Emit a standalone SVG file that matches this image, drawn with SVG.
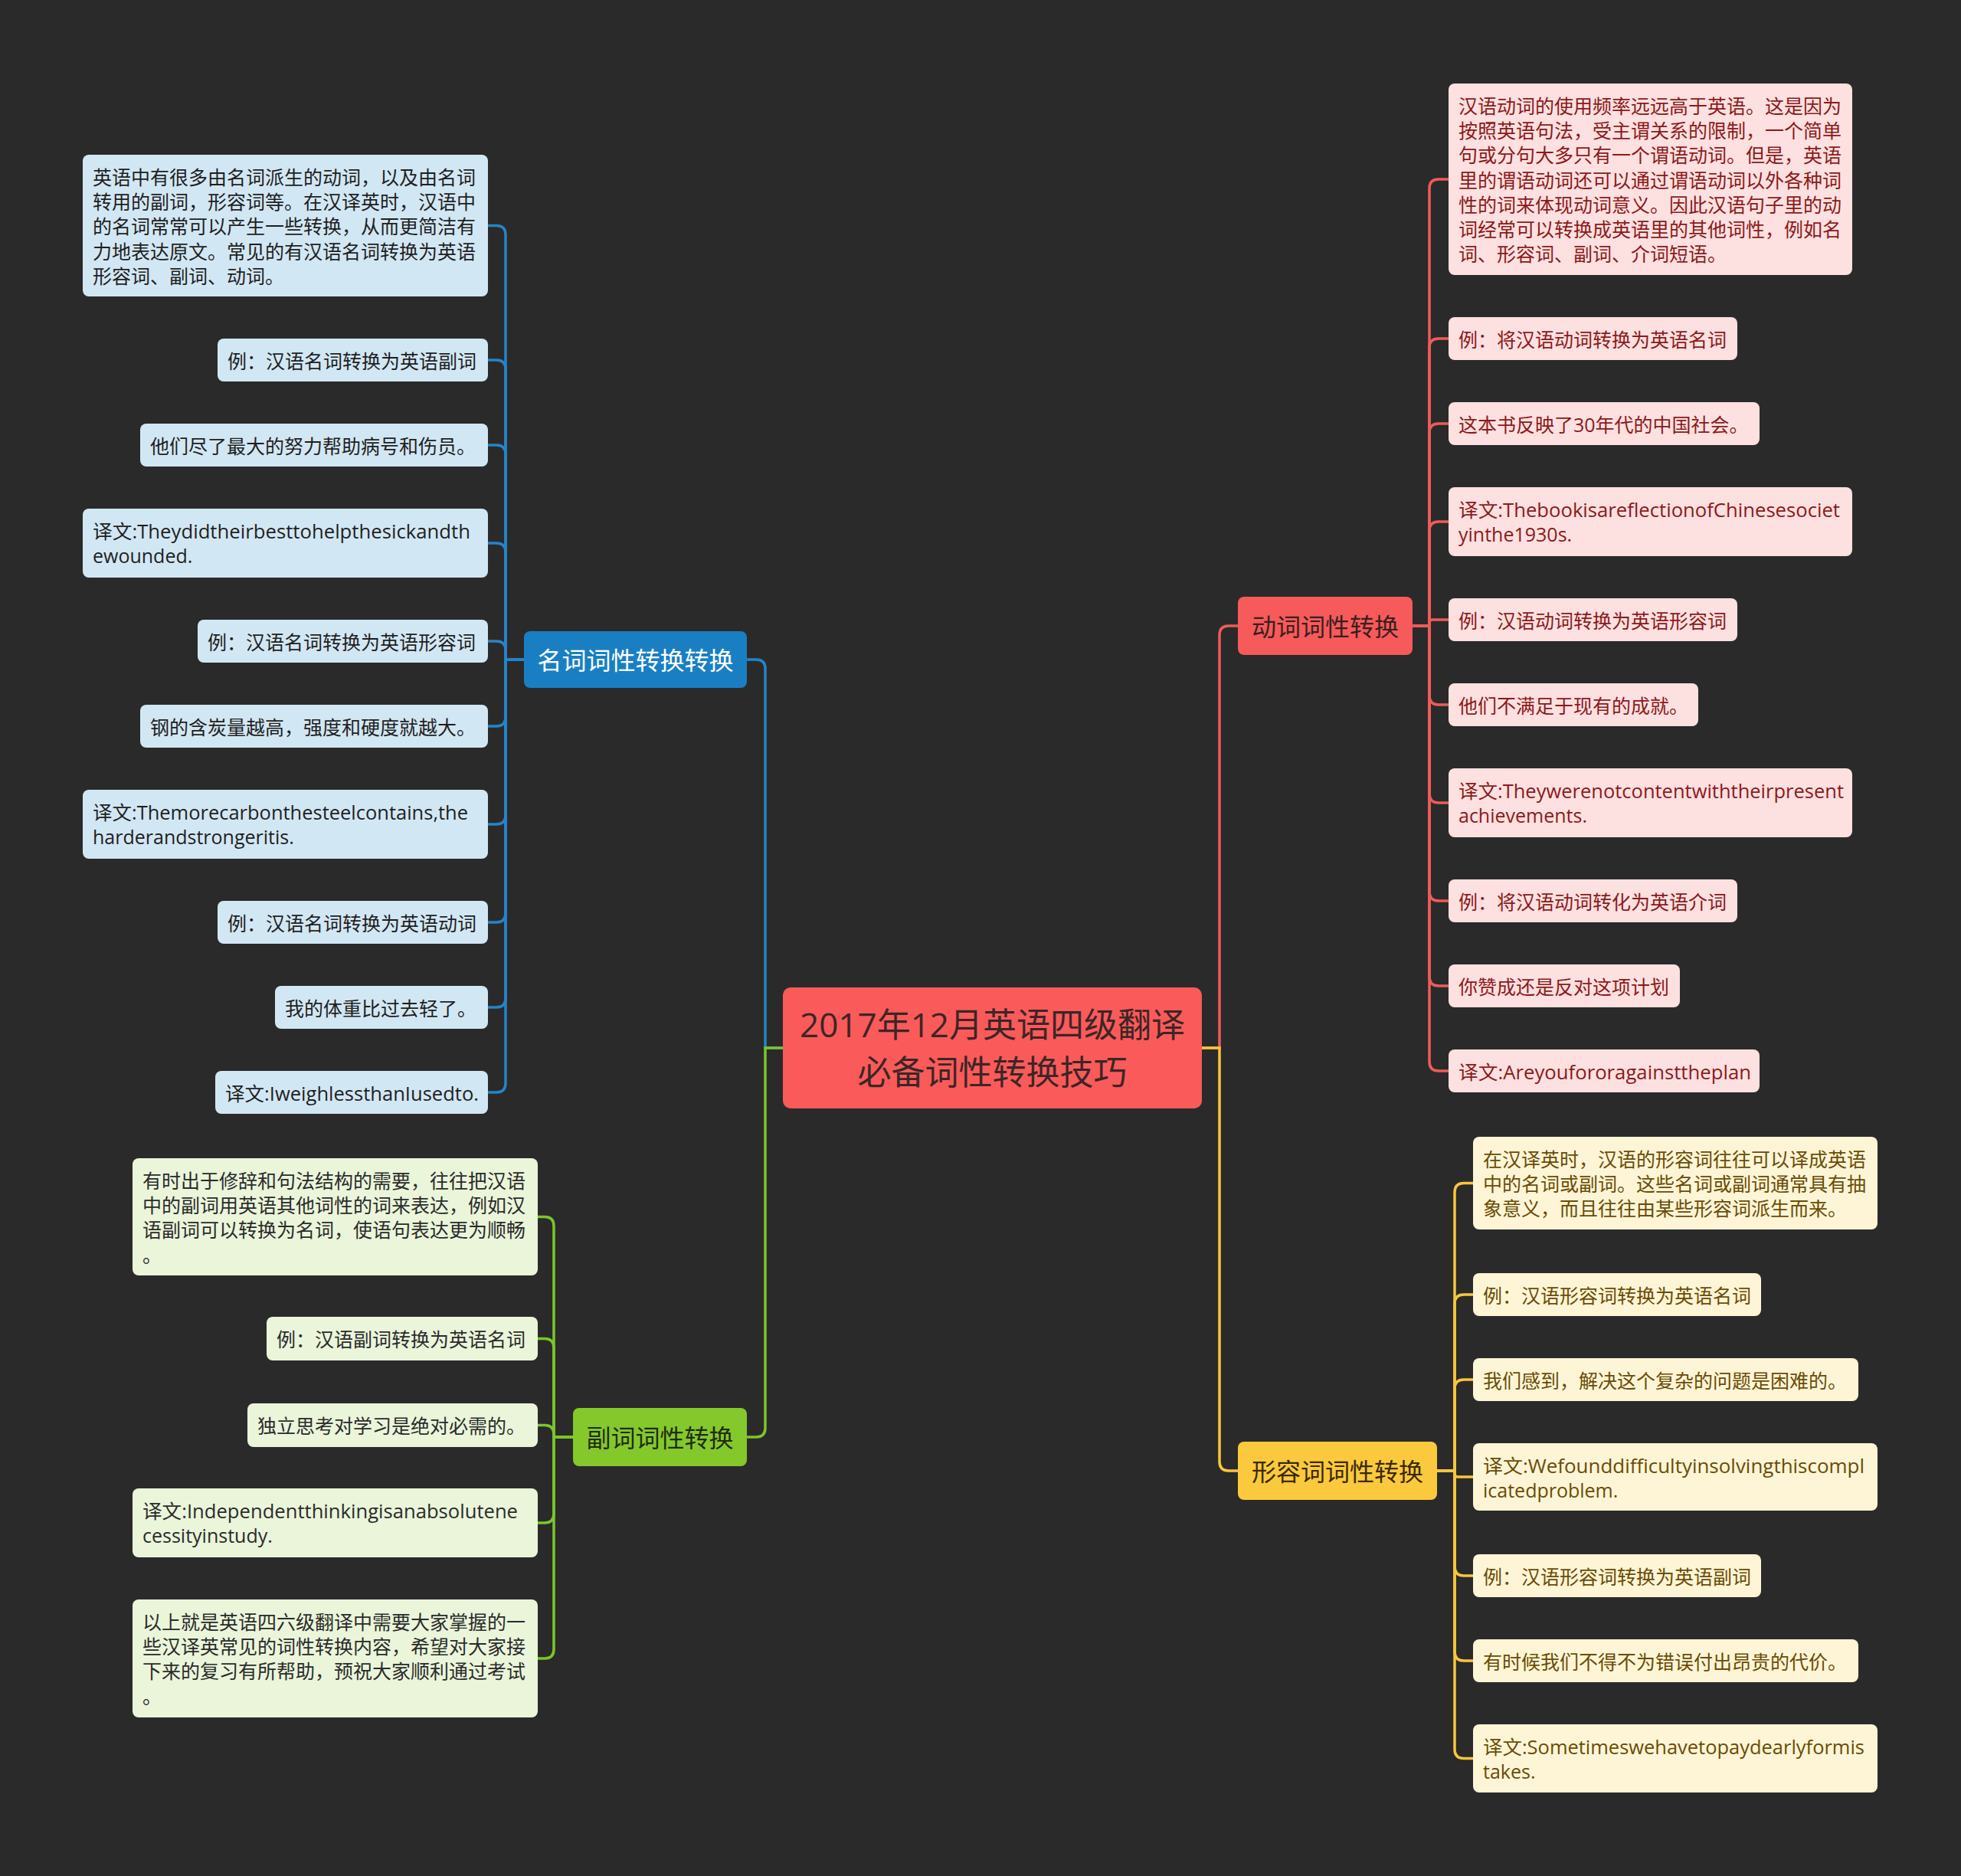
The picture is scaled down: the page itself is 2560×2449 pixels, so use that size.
<svg xmlns="http://www.w3.org/2000/svg" width="2560" height="2449" viewBox="0 0 2560 2449">
<style>
text{font-family:"Open Sans","Noto Sans CJK SC",sans-serif}
.t{font-size:25px}
.t text{transform:translateY(2px)}
.m{font-size:32px;text-anchor:middle}
.bc rect{fill:#d2e7f4}.bc text{fill:#1f1f1f}
.rc rect{fill:#fde0e0}.rc text{fill:#8b1a1a}
.yc rect{fill:#fdf5d6}.yc text{fill:#6b4c05}
.gc rect{fill:#eaf5da}.gc text{fill:#2b2b2b}
.c{fill:none;stroke-width:3.5}
.cb{stroke:#2684c8}.cr{stroke:#ef5b5b}.cy{stroke:#f8c63c}.cg{stroke:#7cc52a}
</style>
<rect width="2560" height="2449" fill="#2a2a2a"/>
<g id="connectors">
<path class="c cb" d="M1022,1368 H999 V873 Q999,861 987,861 H975"/>
<path class="c cg" d="M1022,1368 H999 V1864 Q999,1876 987,1876 H975"/>
<path class="c cr" d="M1569,1368 H1592 V829 Q1592,817 1604,817 H1616"/>
<path class="c cy" d="M1569,1368 H1592 V1908 Q1592,1920 1604,1920 H1616"/>
<path class="c cb" d="M684,861 H660 V306.5 Q660,294.5 648,294.5 H637"/>
<path class="c cb" d="M684,861 H660 V482 Q660,470 648,470 H637"/>
<path class="c cb" d="M684,861 H660 V593 Q660,581 648,581 H637"/>
<path class="c cb" d="M684,861 H660 V721 Q660,709 648,709 H637"/>
<path class="c cb" d="M684,861 H660 V849 Q660,837 648,837 H637"/>
<path class="c cb" d="M684,861 H660 V936 Q660,948 648,948 H637"/>
<path class="c cb" d="M684,861 H660 V1064 Q660,1076 648,1076 H637"/>
<path class="c cb" d="M684,861 H660 V1192 Q660,1204 648,1204 H637"/>
<path class="c cb" d="M684,861 H660 V1303 Q660,1315 648,1315 H637"/>
<path class="c cb" d="M684,861 H660 V1414 Q660,1426 648,1426 H637"/>
<path class="c cr" d="M1844,817 H1866 V246 Q1866,234 1878,234 H1891"/>
<path class="c cr" d="M1844,817 H1866 V454 Q1866,442 1878,442 H1891"/>
<path class="c cr" d="M1844,817 H1866 V565 Q1866,553 1878,553 H1891"/>
<path class="c cr" d="M1844,817 H1866 V693 Q1866,681 1878,681 H1891"/>
<path class="c cr" d="M1844,817 H1866 V813 Q1866,809 1870,809 H1891"/>
<path class="c cr" d="M1844,817 H1866 V908 Q1866,920 1878,920 H1891"/>
<path class="c cr" d="M1844,817 H1866 V1036 Q1866,1048 1878,1048 H1891"/>
<path class="c cr" d="M1844,817 H1866 V1164 Q1866,1176 1878,1176 H1891"/>
<path class="c cr" d="M1844,817 H1866 V1275 Q1866,1287 1878,1287 H1891"/>
<path class="c cr" d="M1844,817 H1866 V1386 Q1866,1398 1878,1398 H1891"/>
<path class="c cy" d="M1876,1920 H1899 V1556.5 Q1899,1544.5 1911,1544.5 H1923"/>
<path class="c cy" d="M1876,1920 H1899 V1702 Q1899,1690 1911,1690 H1923"/>
<path class="c cy" d="M1876,1920 H1899 V1813 Q1899,1801 1911,1801 H1923"/>
<path class="c cy" d="M1876,1920 H1899 V1924 Q1899,1928 1903,1928 H1923"/>
<path class="c cy" d="M1876,1920 H1899 V2045 Q1899,2057 1911,2057 H1923"/>
<path class="c cy" d="M1876,1920 H1899 V2156 Q1899,2168 1911,2168 H1923"/>
<path class="c cy" d="M1876,1920 H1899 V2283.5 Q1899,2295.5 1911,2295.5 H1923"/>
<path class="c cg" d="M748,1876 H723 V1600.5 Q723,1588.5 711,1588.5 H702"/>
<path class="c cg" d="M748,1876 H723 V1759.5 Q723,1747.5 711,1747.5 H702"/>
<path class="c cg" d="M748,1876 H723 V1872.5 Q723,1860.5 711,1860.5 H702"/>
<path class="c cg" d="M748,1876 H723 V1976 Q723,1988 711,1988 H702"/>
<path class="c cg" d="M748,1876 H723 V2153 Q723,2165 711,2165 H702"/>
</g>
<g id="root">
<rect x="1022" y="1289" width="547" height="158" rx="10" fill="#fa5a5a"/>
<text x="1295.5" y="1354" font-size="44" text-anchor="middle" fill="#3b2626">2017年12月英语四级翻译</text>
<text x="1295.5" y="1416" font-size="44" text-anchor="middle" fill="#3b2626">必备词性转换技巧</text>
</g>
<g id="noun">
<rect x="684" y="824" width="291" height="74" rx="8" fill="#1a7fc2"/>
<text class="m" x="829.5" y="874" fill="#ffffff">名词词性转换转换</text>
</g>
<g id="verb">
<rect x="1616" y="779" width="228" height="76" rx="8" fill="#f65a5a"/>
<text class="m" x="1730" y="830" fill="#3a1f1f">动词词性转换</text>
</g>
<g id="adj">
<rect x="1616" y="1882" width="260" height="76" rx="8" fill="#fbc93d"/>
<text class="m" x="1746" y="1933" fill="#3a2a05">形容词词性转换</text>
</g>
<g id="adv">
<rect x="748" y="1838" width="227" height="76" rx="8" fill="#84c82c"/>
<text class="m" x="861.5" y="1889" fill="#1f2d10">副词词性转换</text>
</g>
<g id="b1" class="bc t"><rect x="108" y="202" width="529" height="185" rx="8"/>
<text x="121" y="239">英语中有很多由名词派生的动词，以及由名词</text>
<text x="121" y="271">转用的副词，形容词等。在汉译英时，汉语中</text>
<text x="121" y="303">的名词常常可以产生一些转换，从而更简洁有</text>
<text x="121" y="336">力地表达原文。常见的有汉语名词转换为英语</text>
<text x="121" y="368">形容词、副词、动词。</text></g>
<g id="b2" class="bc t"><rect x="284" y="442" width="353" height="56" rx="8"/><text x="297" y="479">例：汉语名词转换为英语副词</text></g>
<g id="b3" class="bc t"><rect x="183" y="553" width="454" height="56" rx="8"/><text x="196" y="590">他们尽了最大的努力帮助病号和伤员。</text></g>
<g id="b4" class="bc t"><rect x="108" y="664" width="529" height="90" rx="8"/>
<text x="121" y="701" textLength="493" lengthAdjust="spacingAndGlyphs">译文:Theydidtheirbesttohelpthesickandth</text>
<text x="121" y="733">ewounded.</text></g>
<g id="b5" class="bc t"><rect x="258" y="809" width="379" height="56" rx="8"/><text x="271" y="846">例：汉语名词转换为英语形容词</text></g>
<g id="b6" class="bc t"><rect x="183" y="920" width="454" height="56" rx="8"/><text x="196" y="957">钢的含炭量越高，强度和硬度就越大。</text></g>
<g id="b7" class="bc t"><rect x="108" y="1031" width="529" height="90" rx="8"/>
<text x="121" y="1068" textLength="490" lengthAdjust="spacingAndGlyphs">译文:Themorecarbonthesteelcontains,the</text>
<text x="121" y="1100">harderandstrongeritis.</text></g>
<g id="b8" class="bc t"><rect x="284" y="1176" width="353" height="56" rx="8"/><text x="297" y="1213">例：汉语名词转换为英语动词</text></g>
<g id="b9" class="bc t"><rect x="359" y="1287" width="278" height="56" rx="8"/><text x="372" y="1324">我的体重比过去轻了。</text></g>
<g id="b10" class="bc t"><rect x="281" y="1398" width="356" height="56" rx="8"/><text x="294" y="1435" textLength="331" lengthAdjust="spacingAndGlyphs">译文:IweighlessthanIusedto.</text></g>
<g id="r1" class="rc t"><rect x="1891" y="109" width="527" height="250" rx="8"/>
<text x="1904" y="146">汉语动词的使用频率远远高于英语。这是因为</text>
<text x="1904" y="178">按照英语句法，受主谓关系的限制，一个简单</text>
<text x="1904" y="210">句或分句大多只有一个谓语动词。但是，英语</text>
<text x="1904" y="243">里的谓语动词还可以通过谓语动词以外各种词</text>
<text x="1904" y="275">性的词来体现动词意义。因此汉语句子里的动</text>
<text x="1904" y="307">词经常可以转换成英语里的其他词性，例如名</text>
<text x="1904" y="339">词、形容词、副词、介词短语。</text></g>
<g id="r2" class="rc t"><rect x="1891" y="414" width="377" height="56" rx="8"/><text x="1904" y="451">例：将汉语动词转换为英语名词</text></g>
<g id="r3" class="rc t"><rect x="1891" y="525" width="406" height="56" rx="8"/><text x="1904" y="562">这本书反映了30年代的中国社会。</text></g>
<g id="r4" class="rc t"><rect x="1891" y="636" width="527" height="90" rx="8"/>
<text x="1904" y="673" textLength="498" lengthAdjust="spacingAndGlyphs">译文:ThebookisareflectionofChinesesociet</text>
<text x="1904" y="705">yinthe1930s.</text></g>
<g id="r5" class="rc t"><rect x="1891" y="781" width="377" height="56" rx="8"/><text x="1904" y="818">例：汉语动词转换为英语形容词</text></g>
<g id="r6" class="rc t"><rect x="1891" y="892" width="326" height="56" rx="8"/><text x="1904" y="929">他们不满足于现有的成就。</text></g>
<g id="r7" class="rc t"><rect x="1891" y="1003" width="527" height="90" rx="8"/>
<text x="1904" y="1040" textLength="503" lengthAdjust="spacingAndGlyphs">译文:Theywerenotcontentwiththeirpresent</text>
<text x="1904" y="1072">achievements.</text></g>
<g id="r8" class="rc t"><rect x="1891" y="1148" width="377" height="56" rx="8"/><text x="1904" y="1185">例：将汉语动词转化为英语介词</text></g>
<g id="r9" class="rc t"><rect x="1891" y="1259" width="302" height="56" rx="8"/><text x="1904" y="1296">你赞成还是反对这项计划</text></g>
<g id="r10" class="rc t"><rect x="1891" y="1370" width="406" height="56" rx="8"/><text x="1904" y="1407" textLength="382" lengthAdjust="spacingAndGlyphs">译文:Areyoufororagainsttheplan</text></g>
<g id="y1" class="yc t"><rect x="1923" y="1484" width="528" height="121" rx="8"/>
<text x="1936" y="1521">在汉译英时，汉语的形容词往往可以译成英语</text>
<text x="1936" y="1553">中的名词或副词。这些名词或副词通常具有抽</text>
<text x="1936" y="1585">象意义，而且往往由某些形容词派生而来。</text></g>
<g id="y2" class="yc t"><rect x="1923" y="1662" width="376" height="56" rx="8"/><text x="1936" y="1699">例：汉语形容词转换为英语名词</text></g>
<g id="y3" class="yc t"><rect x="1923" y="1773" width="503" height="56" rx="8"/><text x="1936" y="1810">我们感到，解决这个复杂的问题是困难的。</text></g>
<g id="y4" class="yc t"><rect x="1923" y="1884" width="528" height="88" rx="8"/>
<text x="1936" y="1921" textLength="498" lengthAdjust="spacingAndGlyphs">译文:Wefounddifficultyinsolvingthiscompl</text>
<text x="1936" y="1953">icatedproblem.</text></g>
<g id="y5" class="yc t"><rect x="1923" y="2029" width="376" height="56" rx="8"/><text x="1936" y="2066">例：汉语形容词转换为英语副词</text></g>
<g id="y6" class="yc t"><rect x="1923" y="2140" width="503" height="56" rx="8"/><text x="1936" y="2177">有时候我们不得不为错误付出昂贵的代价。</text></g>
<g id="y7" class="yc t"><rect x="1923" y="2251" width="528" height="89" rx="8"/>
<text x="1936" y="2288" textLength="498" lengthAdjust="spacingAndGlyphs">译文:Sometimeswehavetopaydearlyformis</text>
<text x="1936" y="2320">takes.</text></g>
<g id="g1" class="gc t"><rect x="173" y="1512" width="529" height="153" rx="8"/>
<text x="186" y="1549">有时出于修辞和句法结构的需要，往往把汉语</text>
<text x="186" y="1581">中的副词用英语其他词性的词来表达，例如汉</text>
<text x="186" y="1613">语副词可以转换为名词，使语句表达更为顺畅</text>
<text x="186" y="1646">。</text></g>
<g id="g2" class="gc t"><rect x="348" y="1719" width="354" height="57" rx="8"/><text x="361" y="1756">例：汉语副词转换为英语名词</text></g>
<g id="g3" class="gc t"><rect x="323" y="1832" width="379" height="57" rx="8"/><text x="336" y="1869">独立思考对学习是绝对必需的。</text></g>
<g id="g4" class="gc t"><rect x="173" y="1943" width="529" height="90" rx="8"/>
<text x="186" y="1980" textLength="490" lengthAdjust="spacingAndGlyphs">译文:Independentthinkingisanabsolutene</text>
<text x="186" y="2012">cessityinstudy.</text></g>
<g id="g5" class="gc t"><rect x="173" y="2088" width="529" height="154" rx="8"/>
<text x="186" y="2125">以上就是英语四六级翻译中需要大家掌握的一</text>
<text x="186" y="2157">些汉译英常见的词性转换内容，希望对大家接</text>
<text x="186" y="2189">下来的复习有所帮助，预祝大家顺利通过考试</text>
<text x="186" y="2222">。</text></g>
</svg>
